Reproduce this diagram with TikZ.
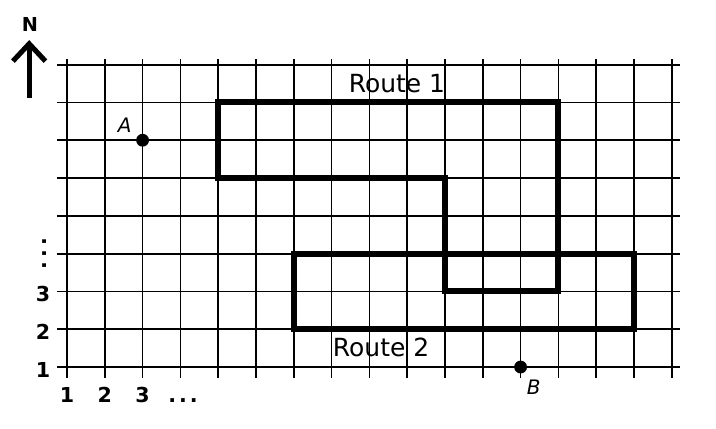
\documentclass[tikz,border=0pt]{standalone}
\usepackage{fontspec}
\setmainfont{DejaVu Sans}[ItalicFont={DejaVu Sans Oblique}, BoldFont={DejaVu Sans Bold}]
\usetikzlibrary{arrows.meta}

\begin{document}
\begin{tikzpicture}[x=1cm,y=1cm]

	% Stile
	\tikzset{
		gitter/.style={line width=1.3pt, black},
		route/.style={line width=4.5pt, black, line join=miter},
		achse/.style={font=\bfseries\fontsize{15.5pt}{18pt}\selectfont},
		routetext/.style={font=\fontsize{18.8pt}{22pt}\selectfont, inner sep=0pt},
		punkt/.style={circle, fill=black, inner sep=0pt, minimum size=0.34cm},
		punkttext/.style={font=\itshape\fontsize{15pt}{18pt}\selectfont}
	}
	\useasboundingbox (-0.772,-0.614) rectangle (18.17,10.71);

	% Gitter
	\foreach \y in {1,...,9} {
		\draw[gitter] (0.735,\y) -- (17.21,\y);
	}
	\foreach \x in {1,...,17} {
		\draw[gitter] (\x,0.71) -- (\x,9.16);
	}

	% Route 1
	\draw[route] (5,8) -- (14,8) -- (14,3) -- (11,3) -- (11,6) -- (5,6) -- cycle;
	\node[routetext] (route1) at (9.73,8.51) {Route 1};

	% Route 2
	\draw[route] (7,2) rectangle (16,4);
	\node[routetext] (route2) at (9.31,1.53) {Route 2};

	% Punkte A und B
	\node[punkt] (A) at (3,7) {};
	\node[punkttext] (Atext) at (2.53,7.40) {A};
	\node[punkt] (B) at (13,1) {};
	\node[punkttext] (Btext) at (13.35,0.47) {B};

	% Achsenbeschriftung
	\foreach \n in {1,2,3} {
		\node[achse, anchor=base] (x\n) at (\n,0.05) {\n};
		\node[achse] (y\n) at (0.365,\n-0.08) {\n};
	}
	\node[achse, anchor=base] (xpunkte) at (4.07,0.05) {.\hspace{2.2pt}.\hspace{2.2pt}.};
	\node[achse, rotate=90, inner sep=0pt] (ypunkte) at (0.41,4) {.\hspace{3pt}.\hspace{3pt}.};

	% Nordpfeil
	\node[font=\bfseries\fontsize{14.5pt}{17pt}\selectfont] (nord) at (0.021,10.05) {N};
	\coordinate (pfeilfuss) at (0,8.12);
	\coordinate (pfeilspitze) at (0,9.65);
	\draw[line width=3.8pt, -{Straight Barb[length=4.6mm,width=8.6mm]}] (pfeilfuss) -- (pfeilspitze);

\end{tikzpicture}
\end{document}
